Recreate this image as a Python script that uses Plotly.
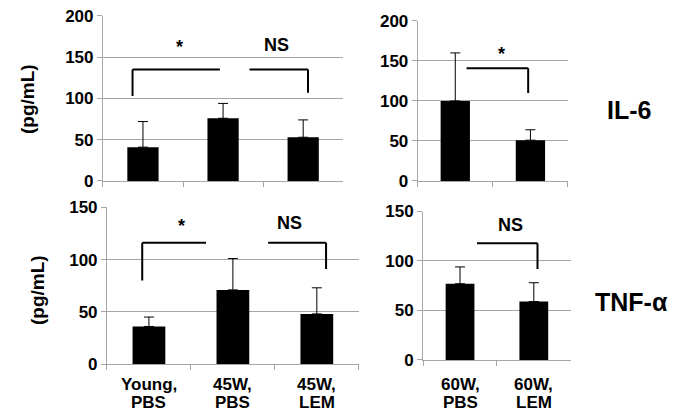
import plotly.graph_objects as go

# ---- data ----
cats_45 = ["Young, PBS", "45W, PBS", "45W, LEM"]
cats_60 = ["60W, PBS", "60W, LEM"]

il6_45_mean = [41, 76, 53]
il6_45_err = [31, 18, 21]
il6_60_mean = [100, 51]
il6_60_err = [60, 13]

tnf_45_mean = [36, 71, 48]
tnf_45_err = [9, 30, 25]
tnf_60_mean = [77, 59]
tnf_60_err = [17, 19]

FONT = "Liberation Sans, Arial, sans-serif"
GRID = "#a6a6a6"

fig = go.Figure()

panels = [
    ("x", "y", cats_45, il6_45_mean, il6_45_err),
    ("x2", "y2", cats_60, il6_60_mean, il6_60_err),
    ("x3", "y3", cats_45, tnf_45_mean, tnf_45_err),
    ("x4", "y4", cats_60, tnf_60_mean, tnf_60_err),
]
for xa, ya, cats, m, e in panels:
    fig.add_trace(go.Bar(
        x=cats, y=m, xaxis=xa, yaxis=ya, width=0.39,
        marker=dict(color="black", line=dict(width=0)),
        error_y=dict(type="data", array=e, arrayminus=[0] * len(e), symmetric=False,
                     color="black", thickness=1, width=5),
        showlegend=False, hoverinfo="skip",
    ))

def xax(domain, anchor):
    return dict(domain=domain, anchor=anchor, type="category", tickson="boundaries",
                ticks="outside", ticklen=5, tickcolor=GRID, showline=True, linecolor=GRID,
                linewidth=1, showgrid=False, showticklabels=False, automargin=False,
                fixedrange=True)

def yax(domain, anchor, rng, dtick):
    return dict(domain=domain, anchor=anchor, range=rng, dtick=dtick, ticks="outside",
                ticklen=5, tickcolor=GRID, showline=True, linecolor=GRID, linewidth=1,
                showgrid=True, gridcolor=GRID, gridwidth=1, zeroline=False, automargin=False,
                tickfont=dict(family=FONT, size=17, color="black"), tickprefix="<b>",
                ticksuffix="</b>", fixedrange=True)

fig.update_layout(
    template="none",
    width=677, height=418, margin=dict(l=0, r=0, t=0, b=0, pad=0),
    paper_bgcolor="white", plot_bgcolor="white",
    xaxis=xax([0.152, 0.507], "y"),
    yaxis=yax([0.567, 0.962], "x", [0, 200], 50),
    xaxis2=xax([0.617, 0.839], "y2"),
    yaxis2=yax([0.567, 0.950], "x2", [0, 200], 50),
    xaxis3=xax([0.158, 0.530], "y3"),
    yaxis3=yax([0.129, 0.504], "x3", [0, 150], 50),
    xaxis4=xax([0.625, 0.843], "y4"),
    yaxis4=yax([0.139, 0.494], "x4", [0, 150], 50),
)

shapes = []
def bracket(xr, yr, x0, x1, ytop, ybot, left_down=True, right_down=True):
    if left_down:
        shapes.append(dict(type="line", xref=xr, yref=yr, x0=x0, x1=x0, y0=ybot, y1=ytop,
                           line=dict(color="black", width=2)))
    shapes.append(dict(type="line", xref=xr, yref=yr, x0=x0, x1=x1, y0=ytop, y1=ytop,
                       line=dict(color="black", width=2)))
    if right_down:
        shapes.append(dict(type="line", xref=xr, yref=yr, x0=x1, x1=x1, y0=ytop, y1=ybot,
                           line=dict(color="black", width=2)))

bracket("x", "y", -0.13, 0.96, 135, 103, True, False)
bracket("x", "y", 1.33, 2.06, 135, 107, False, True)
bracket("x2", "y2", 0.15, 0.97, 141, 110, False, True)
bracket("x3", "y3", -0.08, 0.68, 116, 80, True, False)
bracket("x3", "y3", 1.42, 2.11, 116, 91, False, True)
bracket("x4", "y4", 0.23, 1.05, 118, 92, False, True)
fig.update_layout(shapes=shapes)

ann = []
def txt(xr, yr, x, y, t, size=18):
    ann.append(dict(xref=xr, yref=yr, x=x, y=y, text="<b>%s</b>" % t, showarrow=False,
                    font=dict(family=FONT, size=size, color="black")))
txt("x", "y", 0.46, 162, "*")
txt("x", "y", 1.67, 165, "NS")
txt("x2", "y2", 0.62, 159, "*")
txt("x3", "y3", 0.39, 132, "*")
txt("x3", "y3", 1.68, 135, "NS")
txt("x4", "y4", 0.69, 136, "NS")

# category labels (two lines each) under the bottom panels
for xa, cats in (("x3", cats_45), ("x4", cats_60)):
    for i, c in enumerate(cats):
        first, second = c.split(", ")
        for line, ypix in ((first + ",", 384), (second, 402.5)):
            ann.append(dict(xref=xa, yref="paper", x=i, y=1 - ypix / 418, text="<b>%s</b>" % line,
                            showarrow=False, xanchor="center", yanchor="middle",
                            font=dict(family=FONT, size=17, color="black")))

def paper_text(xp, yp, t, size, angle=0):
    ann.append(dict(xref="paper", yref="paper", x=xp / 677, y=1 - yp / 418, text="<b>%s</b>" % t,
                    showarrow=False, xanchor="center", yanchor="middle", textangle=angle,
                    font=dict(family=FONT, size=size, color="black")))

paper_text(629, 110, "IL-6", 25)
paper_text(631, 302, "TNF-α", 25)
paper_text(28, 99, "(pg/mL)", 19, -90)
paper_text(37, 290, "(pg/mL)", 19, -90)
fig.update_layout(annotations=ann)

fig.write_html("out.html", config={"displayModeBar": False},
               post_script="document.body.style.margin='0';document.body.style.overflow='hidden';")
